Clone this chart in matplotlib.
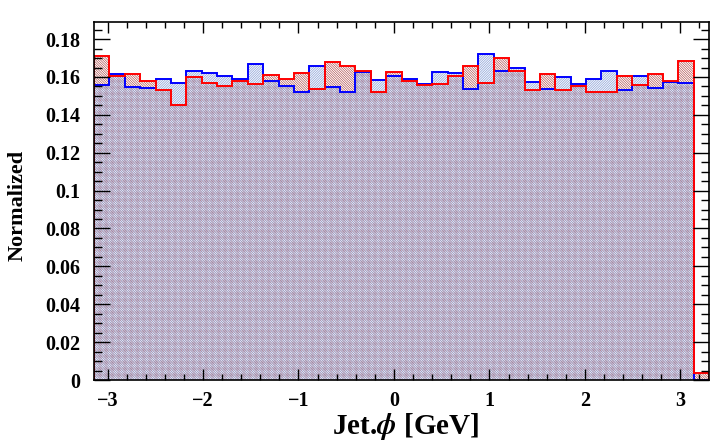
import numpy as np
import matplotlib
matplotlib.use("Agg")
import matplotlib.pyplot as plt
from matplotlib.ticker import MultipleLocator, FuncFormatter

# ---- data ----
x_min, x_max, n_bins = -3.1416, 3.3, 40
red_values = [0.1709, 0.1607, 0.1616, 0.1577, 0.1531, 0.1450, 0.1600, 0.1566, 0.1552, 0.1577,
              0.1563, 0.1610, 0.1589, 0.1621, 0.1536, 0.1679, 0.1656, 0.1631, 0.1521, 0.1626,
              0.1580, 0.1557, 0.1563, 0.1603, 0.1656, 0.1568, 0.1698, 0.1631, 0.1531, 0.1614,
              0.1531, 0.1552, 0.1522, 0.1522, 0.1603, 0.1557, 0.1614, 0.1579, 0.1684, 0.0037]
blue_values = [0.1559, 0.1617, 0.1545, 0.1542, 0.1589, 0.1566, 0.1630, 0.1619, 0.1605, 0.1589,
               0.1668, 0.1579, 0.1552, 0.1521, 0.1658, 0.1545, 0.1521, 0.1628, 0.1584, 0.1605,
               0.1589, 0.1562, 0.1624, 0.1621, 0.1534, 0.1720, 0.1633, 0.1645, 0.1573, 0.1534,
               0.1600, 0.1563, 0.1589, 0.1631, 0.1533, 0.1603, 0.1543, 0.1575, 0.1568, 0.0]
x_label = r"Jet.$\phi$ [GeV]"
y_label = "Normalized"

edges = np.linspace(x_min, x_max, n_bins + 1)
red = np.array(red_values)
blue = np.array(blue_values)

plt.rcParams['font.family'] = ['Liberation Serif', 'DejaVu Serif']
plt.rcParams['font.weight'] = 'bold'
plt.rcParams['mathtext.fontset'] = 'stix'

W, H = 723, 446
fig = plt.figure(figsize=(W / 100, H / 100), dpi=100)
ax = fig.add_axes([94 / W, 66 / H, 615 / W, 358.3 / H])

# hatched fills
plt.rcParams['hatch.linewidth'] = 0.42
ax.stairs(red, edges, fill=True, facecolor='none', edgecolor='#a83c3c',
          hatch='\\' * 14, linewidth=0)
plt.rcParams['hatch.linewidth'] = 0.6
ax.stairs(blue, edges, fill=True, facecolor='none', edgecolor='#98acdc',
          hatch='/' * 14, linewidth=0)
# outlines
ax.stairs(blue, edges, color='blue', linewidth=1.4)
ax.stairs(red, edges, color='red', linewidth=1.4)

ax.set_xlim(x_min, x_max)
ax.set_ylim(0, 1.1 * max(red.max(), blue.max()))

for s in ax.spines.values():
    s.set_linewidth(1.2)

ax.xaxis.set_major_locator(MultipleLocator(1))
ax.xaxis.set_minor_locator(MultipleLocator(0.2))
ax.yaxis.set_major_locator(MultipleLocator(0.02))
ax.yaxis.set_minor_locator(MultipleLocator(0.005))
fmt = FuncFormatter(lambda v, p: f"{v:g}".replace('-', '\u2212') if abs(v) > 1e-9 else "0")
ax.xaxis.set_major_formatter(fmt)
ax.yaxis.set_major_formatter(fmt)

ax.tick_params(which='both', direction='in', top=True, right=True, width=1.0,
               labelsize=14.5)
ax.tick_params(axis='x', which='major', length=8, pad=8)
ax.tick_params(axis='x', which='minor', length=4)
ax.tick_params(axis='y', which='major', length=11.5, pad=10)
ax.tick_params(axis='y', which='minor', length=6)
for lab in ax.get_xticklabels() + ax.get_yticklabels():
    lab.set_fontweight('bold')

fig.text(406 / W, 1 - 426 / H, x_label, ha='center', va='center',
         fontsize=21, fontweight='bold')
fig.text(18 / W, 1 - 205 / H, y_label, ha='center', va='center',
         rotation=90, fontsize=16, fontweight='bold')

fig.savefig("out.png", dpi=100)
